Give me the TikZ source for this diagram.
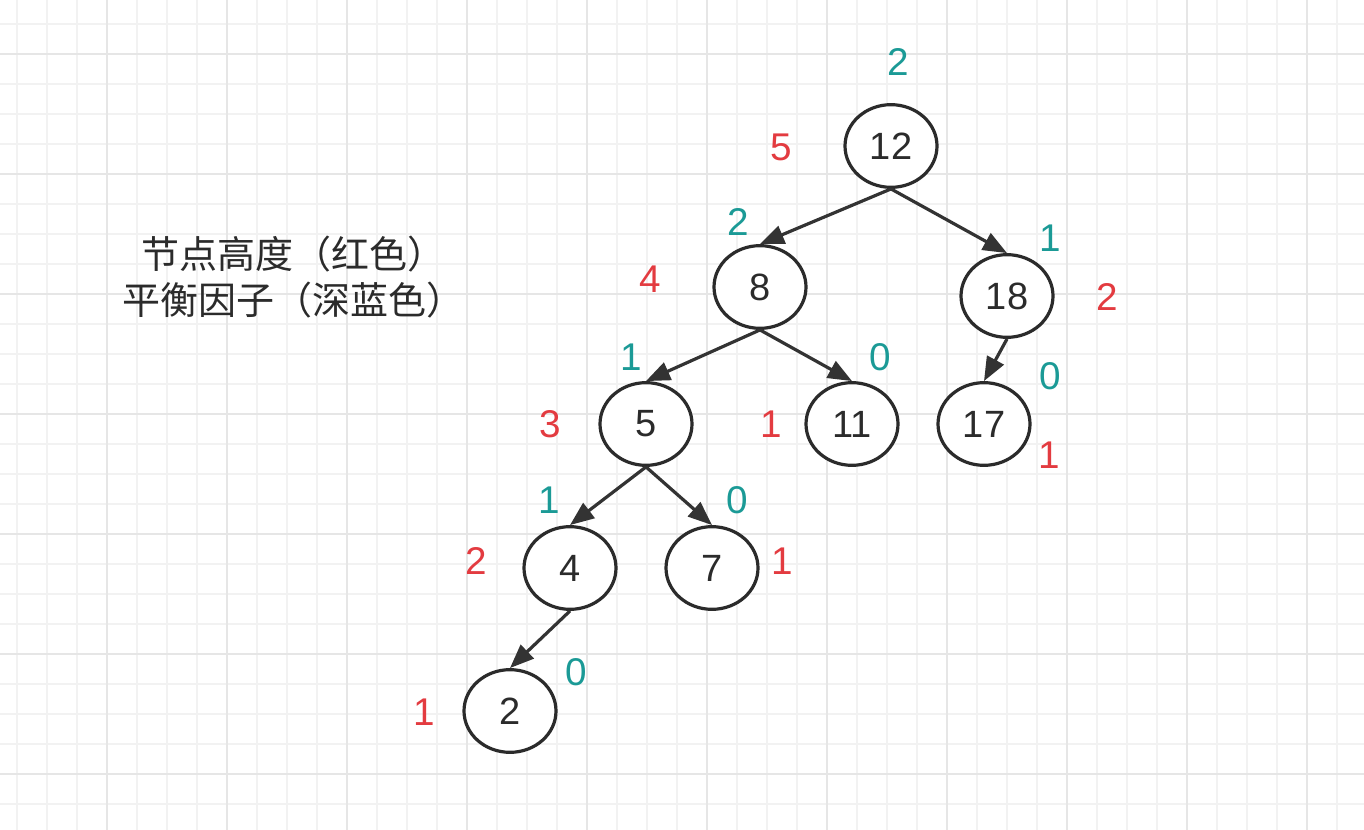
\documentclass[tikz,border=0pt]{standalone}
\usepackage{fontspec}
\setmainfont{Liberation Sans}
\newfontfamily\cjk{Noto Sans CJK SC}
\usetikzlibrary{arrows.meta,shapes.geometric}
\definecolor{gridminor}{HTML}{F2F2F2}
\definecolor{gridmajor}{HTML}{E6E6E6}
\definecolor{ink}{HTML}{2B2B2B}
\definecolor{edge}{HTML}{333333}
\definecolor{hred}{HTML}{E33B40}
\definecolor{bteal}{HTML}{1B9A96}
\tikzset{
  tnode/.style={ellipse, draw=ink, line width=2.4pt, fill=white, minimum width=69pt, minimum height=62pt, inner sep=0pt, text=ink, font=\fontsize{28.5}{30}\selectfont},
  conn/.style={draw=edge, line width=2.4pt, -{Triangle[length=18pt,width=14pt]}},
  hlab/.style={text=hred, font=\fontsize{29}{30}\selectfont, inner sep=0pt},
  blab/.style={text=bteal, font=\fontsize{29}{30}\selectfont, inner sep=0pt},
  note/.style={text=ink, font=\cjk\fontsize{28.5}{34}\selectfont, align=center, inner sep=0pt}
}
\begin{document}
\begin{tikzpicture}[x=0.75pt,y=-0.75pt]
\useasboundingbox (0,0) rectangle (1364,830);
\fill[white] (0,0) rectangle (1364,830);
% grid
\foreach \gx in {17,47,...,1364} {\draw[gridminor, line width=1.2pt] (\gx,0) -- (\gx,830);}
\foreach \gy in {24,54,...,830} {\draw[gridminor, line width=1.2pt] (0,\gy) -- (1364,\gy);}
\foreach \gx in {107,227,...,1364} {\draw[gridmajor, line width=1.2pt] (\gx,0) -- (\gx,830);}
\foreach \gy in {54,174,...,830} {\draw[gridmajor, line width=1.2pt] (0,\gy) -- (1364,\gy);}
% nodes
\node[tnode] (n12) at (891,146) {12};
\node[tnode] (n8) at (760,287) {8};
\node[tnode] (n18) at (1007,296) {18};
\node[tnode] (n5) at (646,424) {5};
\node[tnode] (n11) at (852,424) {11};
\node[tnode] (n17) at (984,424) {17};
\node[tnode] (n4) at (570,568) {4};
\node[tnode] (n7) at (712,568) {7};
\node[tnode] (n2) at (510,711) {2};
% edges
\draw[conn] (n12.south) -- (n8.north);
\draw[conn] (n12.south) -- (n18.north);
\draw[conn] (n8.south) -- (n5.north);
\draw[conn] (n8.south) -- (n11.north);
\draw[conn] (n18.south) -- (n17.north);
\draw[conn] (n5.south) -- (n4.north);
\draw[conn] (n5.south) -- (n7.north);
\draw[conn] (n4.south) -- (n2.north);
% labels
\node[blab] (b12) at (898,62) {2};
\node[hlab] (h12) at (781,147) {5};
\node[blab] (b8) at (738,222) {2};
\node[hlab] (h8) at (650,279) {4};
\node[blab] (b18) at (1050,238) {1};
\node[hlab] (h18) at (1107,297) {2};
\node[blab] (b5) at (631,357) {1};
\node[blab] (b11) at (880,357) {0};
\node[hlab] (h5) at (550,424) {3};
\node[hlab] (h11) at (771,424) {1};
\node[blab] (b17) at (1050,376) {0};
\node[hlab] (h17) at (1049,455) {1};
\node[blab] (b4) at (549,500) {1};
\node[blab] (b7) at (737,500) {0};
\node[hlab] (h4) at (476,561) {2};
\node[hlab] (h7) at (782,561) {1};
\node[blab] (b2) at (576,672) {0};
\node[hlab] (h2) at (424,712) {1};
% legend
\node[note] (legend) at (293,277) {节点高度（红色）\\平衡因子（深蓝色）};
\end{tikzpicture}
\end{document}
